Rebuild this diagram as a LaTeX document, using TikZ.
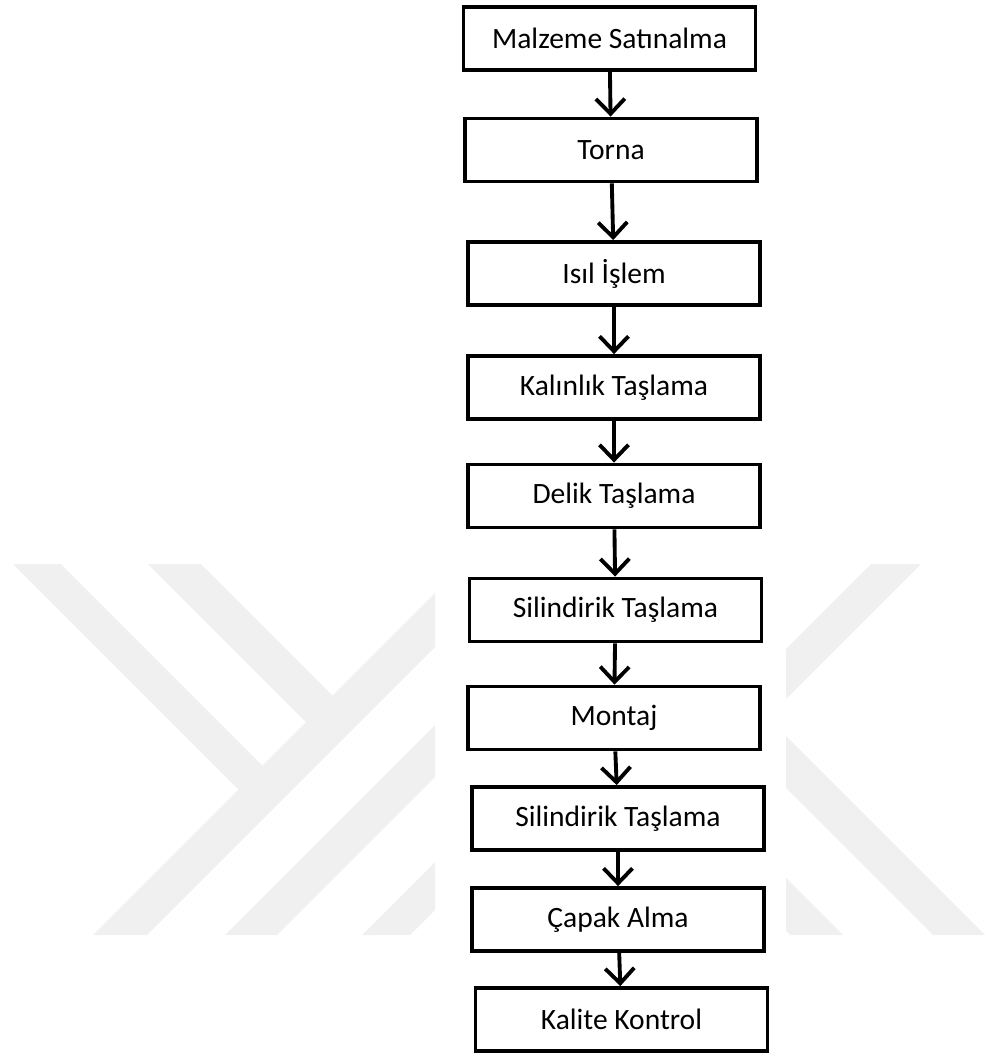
\documentclass[tikz,border=0pt]{standalone}
\usepackage{fontspec}
\setmainfont{Carlito}
\usetikzlibrary{arrows.meta}
\definecolor{wmgray}{RGB}{240,240,240}

\begin{document}
\begin{tikzpicture}[x=0.02cm,y=-0.02cm, step node/.style={rectangle,draw,line width=2.2pt,fill=white,minimum width=5.84cm,minimum height=1.26cm,inner sep=0pt,font=\fontsize{16.8}{20}\selectfont}, wm/.style={fill=wmgray}]
\useasboundingbox (0,0) rectangle (985,1057);

% watermark, left part
\begin{scope}
\clip (0,564) rectangle (435,935);
\fill[wm] (13,564) -- (61,564) -- (276,779) -- (252,803) -- cycle;
\fill[wm] (148,564) -- (201,564) -- (346,709) -- (319.5,735.5) -- cycle;
\fill[wm] (464,564) -- (518,564) -- (147,935) -- (93,935) -- cycle;
\fill[wm] (596,564) -- (648,564) -- (277,935) -- (225,935) -- cycle;
\fill[wm] (733,564) -- (781,564) -- (410,935) -- (362,935) -- cycle;
\end{scope}
% watermark, right part
\begin{scope}
\clip (786,564) rectangle (985,935);
\fill[wm] (871,564) -- (921,564) -- (550,935) -- (500,935) -- cycle;
\fill[wm] (562,564) -- (614,564) -- (985,935) -- (933,935) -- cycle;
\fill[wm] (419,564) -- (472,564) -- (843,935) -- (790,935) -- cycle;
\end{scope}

\node[step node] (1) at (609.5,38.5) {Malzeme Satınalma};
\node[step node] (2) at (611,150) {Torna};
\node[step node] (3) at (614,273.5) {Isıl İşlem};
\node[step node] (4) at (614,387.5) {Kalınlık Taşlama};
\node[step node] (5) at (614,496) {Delik Taşlama};
\node[step node] (6) at (615.5,610) {Silindirik Taşlama};
\node[step node] (7) at (614,718) {Montaj};
\node[step node] (8) at (618,818.5) {Silindirik Taşlama};
\node[step node] (9) at (618,919.5) {Çapak Alma};
\node[step node] (10) at (621.5,1019.5) {Kalite Kontrol};

\path[-{Straight Barb[length=0.3cm,width=0.58cm]}, line width=2.2pt]
(1) edge (2)
(2) edge (3)
(3) edge (4)
(4) edge (5)
(5) edge (6)
(6) edge (7)
(7) edge (8)
(8) edge (9)
(9) edge (10);

\end{tikzpicture}
\end{document}
